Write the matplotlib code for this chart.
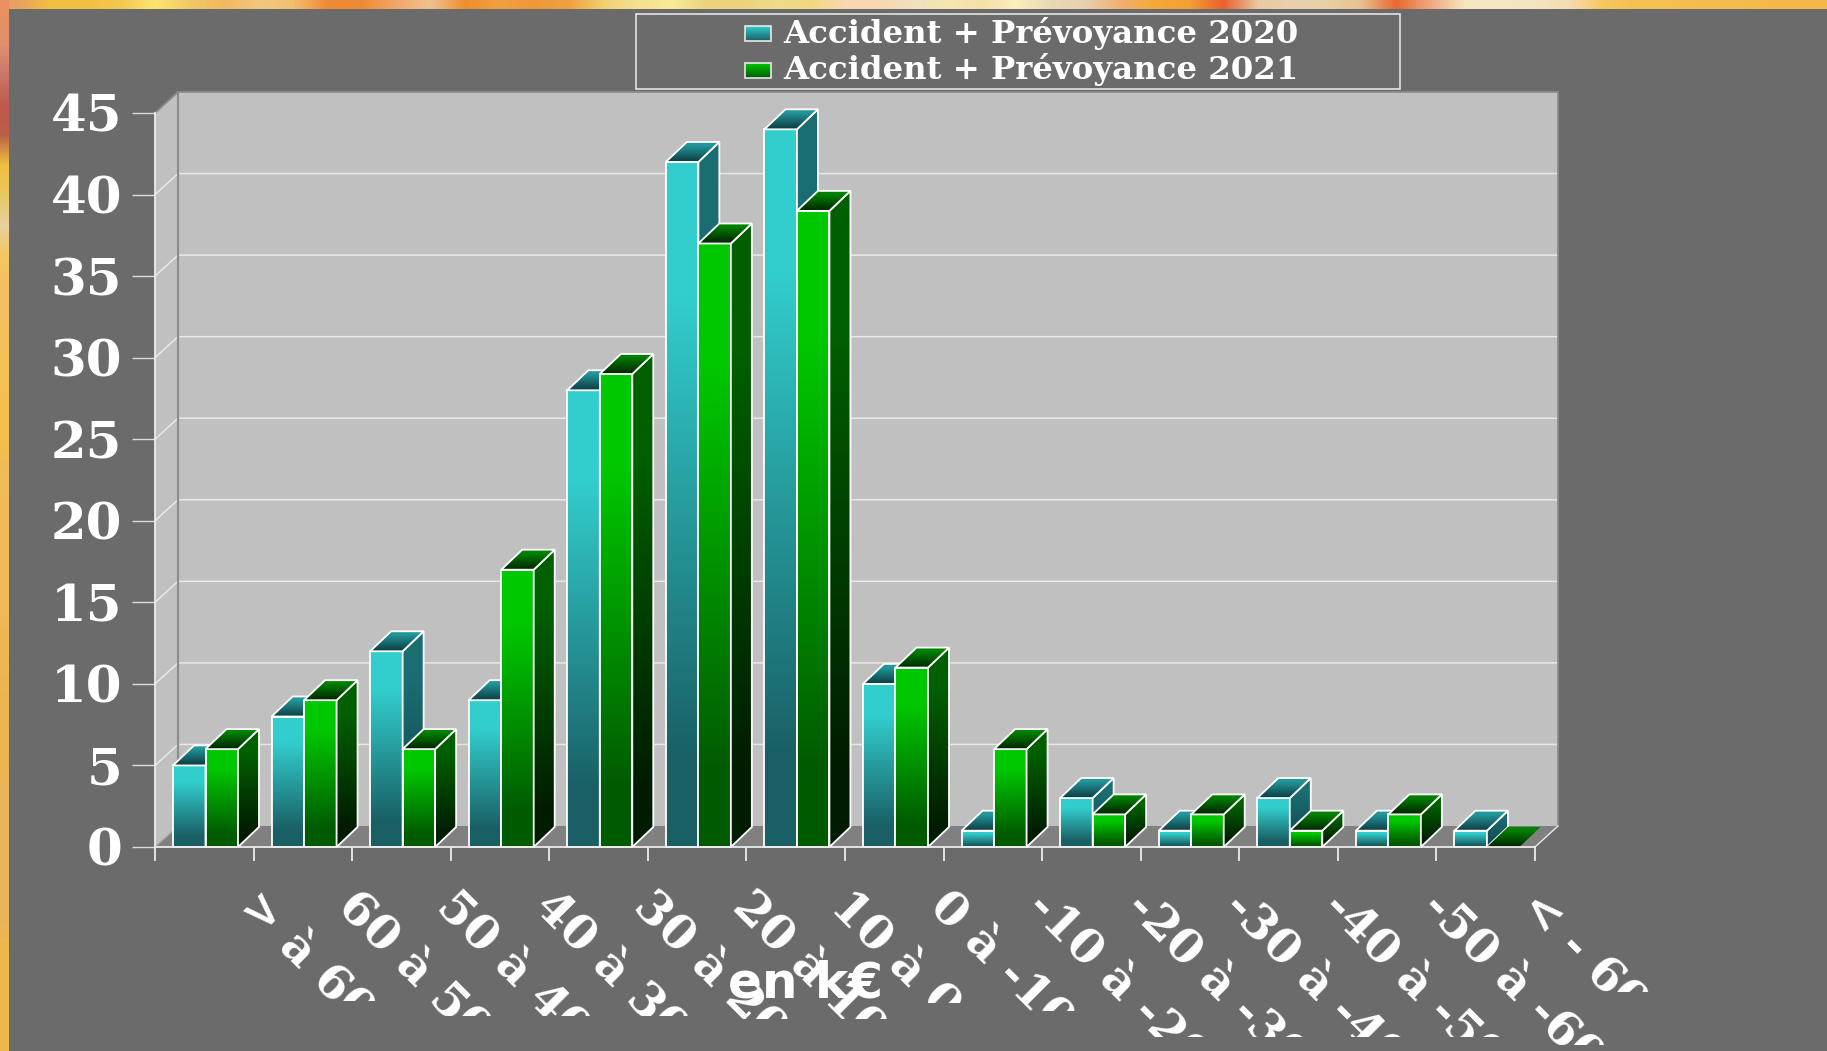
import numpy as np
import matplotlib
matplotlib.use("Agg")
import matplotlib.pyplot as plt
from matplotlib.patches import Polygon, Rectangle
from matplotlib.transforms import Bbox, ScaledTranslation

categories = ["> à 60", "60 à 50", "50 à 40", "40 à 30", "30 à 20", "20 à 10", "10 à 0",
              "0 à -10", "-10 à -20", "-20 à -30", "-30 à -40", "-40 à -50", "-50 à -60", "< - 60"]
values_2020 = [5, 8, 12, 9, 28, 42, 44, 10, 1, 3, 1, 3, 1, 1]
values_2021 = [6, 9, 6, 17, 29, 37, 39, 11, 6, 2, 2, 1, 2, 0]
series_names = ["Accident + Prévoyance 2020", "Accident + Prévoyance 2021"]
y_ticks = [0, 5, 10, 15, 20, 25, 30, 35, 40, 45]
x_title = "en k€"

# bottom edge (px) where each rotated label is cut off in the original
label_clip = [1001, 1016, 1016, 1016, 1019, 1019, 1003, 1011, 1037, 1037, 1037, 1037, 1045, 992]

# background photo peeking out at the top and on the left
top_strip = ["#e8a060", "#f2c040", "#f2c040", "#f2c850", "#fbe670", "#f2c868", "#f0b860", "#f2c880", "#f0c070",
             "#ee8a35", "#ee8a35", "#f0a868", "#f0c090", "#ee8e2c", "#f0a040", "#f09838", "#f0a040", "#f0d070",
             "#f5e090", "#f8ec98", "#ecd27c", "#ecd27c", "#eedc88", "#f0d880", "#f8d8b0", "#f8d8b0", "#f0e0c0",
             "#f5e6b0", "#f5e0a8", "#fbeec0", "#e8d8b0", "#e8d0b0", "#f0b070", "#f5a838", "#f5a035", "#e8602a",
             "#e8c8a0", "#e8d0b0", "#e8d0a8", "#e8c090", "#e86830", "#f0a880", "#f5e6c0", "#f5e6c0", "#f5e4c0",
             "#f5dcb0", "#f4c860", "#f4c050", "#f4c050", "#f4bc4c", "#f4bc4c", "#f4b848", "#f4b848"]
left_strip = ["#e89060", "#e09070", "#c87868", "#c05850", "#b86048", "#eec040", "#e8c860", "#e8d0a0", "#f4c860",
              "#f2c060", "#f2c060", "#f2c158", "#f2c158", "#f4c04c", "#f4c04c", "#eebc58", "#eebc58", "#f0b858",
              "#f0b858", "#f0b858", "#f0b858", "#eeb650", "#eeb650", "#ecb450", "#ecb450", "#ecb450", "#e8b45c",
              "#e8b45c", "#e8b45c", "#e8b45c", "#e8b45c", "#ecb84c", "#ecb84c", "#ecb84c", "#ecb84c"]

W, H = 1827, 1051
PANEL = "#6b6b6b"
WALL = "#c0c0c0"
FLOOR = "#808080"
GRID = "#e8e8e8"

TEAL_FRONT = ("#32cdcd", "#195f64")
TEAL_SIDE = ("#1a6e72", "#0f4a50")
TEAL_TOP = ("#23989c", "#0c3c42")
GREEN_FRONT = ("#00c800", "#005a00")
GREEN_SIDE = ("#006000", "#001c00")
GREEN_TOP = ("#008200", "#002400")


def ramp(colors, n=128, hold=(0.2, 0.88)):
    a = np.array(matplotlib.colors.to_rgb(colors[0]))
    b = np.array(matplotlib.colors.to_rgb(colors[1]))
    t = np.clip((np.linspace(0, 1, n) - hold[0]) / (hold[1] - hold[0]), 0, 1)
    return (a[None, :] * (1 - t[:, None]) + b[None, :] * t[:, None])[:, None, :]


def gradient_poly(ax, verts, colors, z, hold=(0.2, 0.88), edge=True):
    verts = np.array(verts, dtype=float)
    x0, x1 = verts[:, 0].min(), verts[:, 0].max()
    y0, y1 = verts[:, 1].min(), verts[:, 1].max()
    im = ax.imshow(ramp(colors, hold=hold), extent=(x0, x1, y0, y1), aspect="auto", zorder=z,
                   origin="upper", interpolation="bilinear")
    clip = Polygon(verts, closed=True, transform=ax.transData)
    im.set_clip_path(clip)
    im.set_clip_box(ax.figure.bbox)
    if edge:
        ax.add_patch(Polygon(verts, closed=True, fill=False, edgecolor="white", linewidth=1.3,
                             zorder=z + 0.1, clip_on=False, joinstyle="miter"))


def draw_bar(ax, x, value, front, side, top, z):
    # front face, right side and top of one box
    if value > 0:
        gradient_poly(ax, [(x, 0), (x + bar_w, 0), (x + bar_w, value), (x, value)], front, z)
        gradient_poly(ax, [(x + bar_w, 0), (x + bar_w + depth_x, depth_y), (x + bar_w + depth_x, value + depth_y),
                           (x + bar_w, value)], side, z + 0.2)
    gradient_poly(ax, [(x, value), (x + bar_w, value), (x + bar_w + depth_x, value + depth_y),
                       (x + depth_x, value + depth_y)], top, z + 0.4, hold=(0.15, 1), edge=value > 0)


fig = plt.figure(figsize=(W / 100, H / 100), dpi=100)

# page backdrop in pixel coordinates
bg = fig.add_axes([0, 0, 1, 1])
bg.set_xlim(0, W)
bg.set_ylim(H, 0)
bg.axis("off")
rows = [matplotlib.colors.to_rgb(c) for c in top_strip]
bg.imshow(np.array(rows)[None, :, :], extent=(0, W, 9, 0), aspect="auto", interpolation="bilinear")
rows = [matplotlib.colors.to_rgb(c) for c in left_strip]
bg.imshow(np.array(rows)[:, None, :], extent=(0, 9, H, 0), aspect="auto", interpolation="bilinear")
bg.set_xlim(0, W)
bg.set_ylim(H, 0)
bg.add_patch(Rectangle((9, 9), W - 9, H - 9, facecolor=PANEL, edgecolor="none"))

# legend
bg.add_patch(Rectangle((635.5, 13.5), 764, 75, facecolor="none", edgecolor="#e4e4e4", linewidth=1.2))
key_colors = [TEAL_FRONT, GREEN_FRONT]
for name, keyc, key_y, base in zip(series_names, key_colors, [41, 78], [43, 79.5]):
    bg.imshow(ramp(keyc, hold=(0, 1)), extent=(745, 771, key_y, key_y - 15), aspect="auto", zorder=3,
              interpolation="bilinear")
    bg.add_patch(Rectangle((745, key_y - 15), 26, 15, fill=False, edgecolor="#e8e8e8", linewidth=1.2, zorder=4))
    bg.text(783, base, name, color="white", fontsize=23.3, family="DejaVu Serif", fontweight="bold",
            va="baseline", ha="left")
bg.set_xlim(0, W)
bg.set_ylim(H, 0)
bg.text(806, 998, x_title, color="white", fontsize=36, family="DejaVu Sans", fontweight="bold",
        va="baseline", ha="center", zorder=5)

# plotting area is the front plane of the 3D box
ax = fig.add_axes([155 / W, 1 - 847 / H, (1535 - 155) / W, (847 - 113) / H])
ax.patch.set_visible(False)
n = len(categories)
px_x = (1535 - 155) / n
px_y = (847 - 113) / 45
wall_x, wall_y = 23 / px_x, 21 / px_y
depth_x, depth_y = 21 / px_x, 20 / px_y
bar_w = 32.5 / px_x
margin = 18 / px_x

ax.add_patch(Polygon([(wall_x, wall_y), (n + wall_x, wall_y), (n + wall_x, 45 + wall_y), (wall_x, 45 + wall_y)],
                     facecolor=WALL, edgecolor="none", zorder=0.5, clip_on=False))
ax.add_patch(Polygon([(0, 0), (wall_x, wall_y), (wall_x, 45 + wall_y), (0, 45)],
                     facecolor=WALL, edgecolor="none", zorder=0.5, clip_on=False))
ax.add_patch(Polygon([(0, 0), (n, 0), (n + wall_x, wall_y), (wall_x, wall_y)],
                     facecolor=FLOOR, edgecolor="none", zorder=0.6, clip_on=False))
for v in y_ticks[1:-1]:
    ax.plot([0, wall_x, n + wall_x], [v, v + wall_y, v + wall_y], color=GRID, lw=1.1, zorder=0.7, clip_on=False)
# back edges of the box
ax.plot([0, wall_x, n + wall_x, n + wall_x], [45, 45 + wall_y, 45 + wall_y, wall_y], color="#8c8c8c", lw=1.3,
        zorder=0.7, clip_on=False)
ax.plot([wall_x, wall_x], [wall_y, 45 + wall_y], color="#8c8c8c", lw=1.5, zorder=0.7, clip_on=False)
ax.plot([0, wall_x], [0, wall_y], color="#a8a8a8", lw=1.0, zorder=0.8, clip_on=False)
ax.plot([n, n + wall_x], [0, wall_y], color=GRID, lw=1.0, zorder=0.8, clip_on=False)

for i in range(n):
    x = i + margin
    z = 2 + i
    draw_bar(ax, x, values_2020[i], TEAL_FRONT, TEAL_SIDE, TEAL_TOP, z)
    draw_bar(ax, x + bar_w, values_2021[i], GREEN_FRONT, GREEN_SIDE, GREEN_TOP, z + 0.5)

ax.set_xlim(0, n)
ax.set_ylim(0, 45)

for s in ["top", "right"]:
    ax.spines[s].set_visible(False)
for s in ["left", "bottom"]:
    ax.spines[s].set_color("#ececec")
    ax.spines[s].set_linewidth(1.3)
    ax.spines[s].set_zorder(50)

ax.set_yticks(y_ticks)
ax.set_yticklabels([str(v) for v in y_ticks], fontsize=37, family="DejaVu Serif", fontweight="bold", color="white")
ax.tick_params(axis="y", length=16.5, width=1.0, color="#dcdcdc", pad=7)

ax.set_xticks(np.arange(n + 1))
ax.set_xticklabels([""] + categories, fontsize=34, family="DejaVu Serif", fontweight="bold", color="white",
                   rotation=-45, ha="left", va="top", rotation_mode="anchor")
ax.tick_params(axis="x", length=10, width=1.3, color="#ececec", pad=16)

shift = ScaledTranslation(9 / 100, 0, fig.dpi_scale_trans)
for label, cut in zip(ax.get_xticklabels()[1:], label_clip):
    label.set_transform(label.get_transform() + shift)
    label.set_clip_on(True)
    label.set_clip_box(Bbox([[0, H - cut], [W, H]]))

fig.savefig("out.png", dpi=100, facecolor=PANEL)
